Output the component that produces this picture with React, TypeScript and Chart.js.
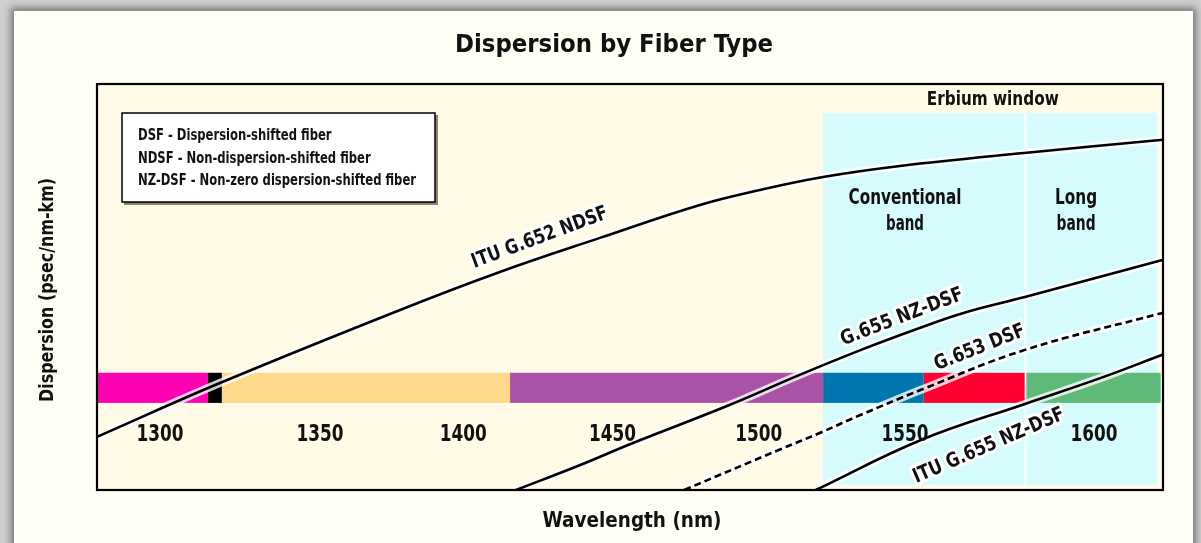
import React, { useEffect, useRef } from 'react';
import { Chart, registerables } from 'chart.js';

Chart.register(...registerables);

const FONT = '"DejaVu Sans Condensed", "Liberation Sans Narrow", "Roboto Condensed", "DejaVu Sans", sans-serif';

// Axis ranges (wavelength nm, dispersion psec/nm-km)
const X_MIN = 1273.8;
const X_MAX = 1638.2;
const Y_MIN = -7.8;
const Y_MAX = 23.2;

// ITU G.652 NDSF
const ndsfX = [1273.8, 1315.8, 1377.4, 1411.5, 1445.7, 1479.9, 1500.4, 1522, 1548.3, 1590.7, 1638.2];
const ndsfY = [-3.74, 0.37, 5.95, 8.85, 11.45, 13.97, 15.11, 16.1, 16.94, 17.93, 18.94];

// G.655 NZ-DSF (positive)
const nzdsfX = [1417, 1439, 1457, 1490, 1514, 1535, 1555, 1570, 1591, 1638];
const nzdsfY = [-7.8, -5.89, -4.21, -1.31, 0.99, 2.9, 4.57, 5.72, 6.94, 9.76];

// G.653 DSF (dashed)
const dsfX = [1474.5, 1507, 1521, 1535, 1555.5, 1591, 1638];
const dsfY = [-7.8, -4.73, -3.43, -2.05, -0.15, 2.9, 5.72];

// ITU G.655 NZ-DSF (negative)
const itu655X = [1519.5, 1555.5, 1591, 1617, 1638];
const itu655Y = [-7.8, -3.98, -1.23, 0.76, 2.52];

// Spectral band strip
const bandStart = [1273.8, 1311.7, 1316.5, 1415, 1522, 1556.4, 1591.5];
const bandEnd = [1311.7, 1316.5, 1415, 1522, 1556.4, 1590.9, 1637.4];
const bandColors = ['#ff00b2', '#000000', '#fed98b', '#aa52a8', '#0076ae', '#ff0030', '#5fba79'];
const BAND_LOW = -1.15;
const BAND_HIGH = 1.15;

// Erbium window
const erbiumStart = 1522;
const erbiumEnd = 1636.2;
const erbiumSplit = 1591.2;
const erbiumTop = 21.0;
const erbiumBottom = -7.4;

// Tick labels along the wavelength axis
const tickLabels = ['1300', '1350', '1400', '1450', '1500', '1550', '1600'];
const tickLabelAt = [1295.3, 1350, 1399, 1450, 1500, 1550, 1614.6];
const tickLabelLevel = -3.6;

const legendLines = [
  'DSF - Dispersion-shifted fiber',
  'NDSF - Non-dispersion-shifted fiber',
  'NZ-DSF - Non-zero dispersion-shifted fiber',
];

// Curve labels: text, anchor (nm, dispersion), angle degrees
const curveLabelText = ['ITU G.652 NDSF', 'G.655 NZ-DSF', 'G.653 DSF', 'ITU G.655 NZ-DSF'];
const curveLabelX = [1425.2, 1549.0, 1575.6, 1578.7];
const curveLabelY = [11.45, 5.39, 3.05, -4.43];
const curveLabelAngle = [-20.5, -21, -21.5, -23.4];
const curveLabelWidth = [144, 130, 96, 163];

const pts = (xs: number[], ys: number[]) => xs.map((x, i) => ({ x, y: ys[i] }));

type TextOpts = { angle?: number; halo?: number; align?: CanvasTextAlign; width?: number; sx?: number };

export default function App() {
  const ref = useRef<HTMLCanvasElement>(null);

  useEffect(() => {
    const canvas = ref.current!;
    const series = [
      { name: 'ITU G.652 NDSF', data: pts(ndsfX, ndsfY), dash: [] as number[] },
      { name: 'G.655 NZ-DSF', data: pts(nzdsfX, nzdsfY), dash: [] as number[] },
      { name: 'G.653 DSF', data: pts(dsfX, dsfY), dash: [7, 4] },
      { name: 'ITU G.655 NZ-DSF', data: pts(itu655X, itu655Y), dash: [] as number[] },
    ];
    const datasets: any[] = [];
    series.forEach((s) => {
      datasets.push({
        label: s.name + ' halo',
        data: s.data,
        borderColor: 'rgba(255,255,255,0.8)',
        borderWidth: 8,
        pointRadius: 0,
        tension: 0.4,
        order: 1,
      });
      datasets.push({
        label: s.name,
        data: s.data,
        borderColor: '#000000',
        borderWidth: 2.6,
        borderDash: s.dash,
        pointRadius: 0,
        tension: 0.4,
        order: 0,
      });
    });

    const text = (ctx: CanvasRenderingContext2D, s: string, x: number, y: number, font: string, o: TextOpts = {}) => {
      ctx.save();
      ctx.font = font;
      let sx = o.sx ?? 1;
      if (o.width) sx = o.width / ctx.measureText(s).width;
      ctx.translate(x, y);
      ctx.rotate(((o.angle ?? 0) * Math.PI) / 180);
      ctx.scale(sx, 1);
      ctx.textAlign = o.align ?? 'center';
      ctx.textBaseline = 'middle';
      if (o.halo) {
        ctx.lineJoin = 'round';
        ctx.strokeStyle = '#ffffff';
        ctx.lineWidth = o.halo;
        ctx.strokeText(s, 0, 0);
      }
      ctx.fillStyle = '#111111';
      ctx.fillText(s, 0, 0);
      ctx.restore();
    };

    const deco = {
      id: 'deco',
      beforeDatasetsDraw(chart: any) {
        const { ctx, chartArea: a, scales } = chart;
        const xs = scales.x;
        const ys = scales.y;
        ctx.save();
        ctx.fillStyle = '#fffbe7';
        ctx.fillRect(a.left, a.top, a.right - a.left, a.bottom - a.top);
        // erbium window
        const ex0 = xs.getPixelForValue(erbiumStart);
        const ex1 = xs.getPixelForValue(erbiumEnd);
        const ey0 = ys.getPixelForValue(erbiumTop);
        const ey1 = ys.getPixelForValue(erbiumBottom);
        ctx.fillStyle = '#d5fbfd';
        ctx.fillRect(ex0, ey0, ex1 - ex0, ey1 - ey0);
        const sxp = xs.getPixelForValue(erbiumSplit);
        ctx.fillStyle = '#f2ffff';
        ctx.fillRect(sxp - 1.5, ey0, 3, ey1 - ey0);
        // band strip
        const by0 = ys.getPixelForValue(BAND_HIGH);
        const by1 = ys.getPixelForValue(BAND_LOW);
        bandStart.forEach((b, i) => {
          const x0 = xs.getPixelForValue(b);
          const x1 = xs.getPixelForValue(bandEnd[i]);
          ctx.fillStyle = bandColors[i];
          ctx.fillRect(x0, by0, x1 - x0, by1 - by0);
        });
        ctx.restore();
      },
      afterDatasetsDraw(chart: any) {
        const { ctx, chartArea: a, scales } = chart;
        const xs = scales.x;
        const ys = scales.y;
        ctx.save();
        ctx.strokeStyle = '#000000';
        ctx.lineWidth = 2.2;
        ctx.strokeRect(a.left, a.top, a.right - a.left, a.bottom - a.top);
        ctx.restore();

        // tick labels
        const ty = ys.getPixelForValue(tickLabelLevel);
        tickLabels.forEach((t, i) => {
          text(ctx, t, xs.getPixelForValue(tickLabelAt[i]), ty, `bold 23px ${FONT}`, { width: 47 });
        });

        // curve labels
        curveLabelText.forEach((t, i) => {
          text(ctx, t, xs.getPixelForValue(curveLabelX[i]), ys.getPixelForValue(curveLabelY[i]), `bold 20px ${FONT}`, {
            angle: curveLabelAngle[i],
            halo: 6,
            width: curveLabelWidth[i],
          });
        });

        // erbium annotations
        text(ctx, 'Erbium window', xs.getPixelForValue(1580), ys.getPixelForValue(21.98), `bold 20px ${FONT}`, { width: 132 });
        text(ctx, 'Conventional', xs.getPixelForValue(1550), ys.getPixelForValue(14.5), `bold 22px ${FONT}`, { width: 113 });
        text(ctx, 'band', xs.getPixelForValue(1550), ys.getPixelForValue(12.5), `bold 22px ${FONT}`, { width: 38 });
        text(ctx, 'Long', xs.getPixelForValue(1608.5), ys.getPixelForValue(14.5), `bold 22px ${FONT}`, { width: 42 });
        text(ctx, 'band', xs.getPixelForValue(1608.5), ys.getPixelForValue(12.5), `bold 22px ${FONT}`, { width: 39 });

        // legend box
        ctx.save();
        ctx.fillStyle = 'rgba(90,80,70,0.7)';
        ctx.fillRect(124, 115, 314, 90);
        ctx.fillStyle = '#ffffff';
        ctx.fillRect(122, 113, 313, 89);
        ctx.strokeStyle = '#000000';
        ctx.lineWidth = 1.5;
        ctx.strokeRect(122, 113, 313, 89);
        ctx.restore();
        ctx.save();
        ctx.font = `bold 16px ${FONT}`;
        const legendScale = 278 / ctx.measureText(legendLines[2]).width;
        ctx.restore();
        legendLines.forEach((l, i) => {
          text(ctx, l, 138, 136 + i * 22.5, `bold 16px ${FONT}`, { align: 'left', sx: legendScale });
        });

        // titles
        text(ctx, 'Dispersion by Fiber Type', 614, 45, `bold 25px ${FONT}`, { width: 318 });
        text(ctx, 'Wavelength (nm)', 632, 521, `bold 22px ${FONT}`, { width: 179 });
        text(ctx, 'Dispersion (psec/nm-km)', 48, 290, `bold 20px ${FONT}`, { angle: -90, width: 224 });
      },
    };

    const chart = new Chart(canvas, {
      type: 'line',
      data: { datasets },
      options: {
        animation: false,
        responsive: false,
        devicePixelRatio: 1,
        layout: { padding: { left: 97, top: 84, right: 38, bottom: 53 } },
        scales: {
          x: { type: 'linear', min: X_MIN, max: X_MAX, display: false },
          y: { type: 'linear', min: Y_MIN, max: Y_MAX, display: false },
        },
        plugins: { legend: { display: false }, tooltip: { enabled: false }, title: { display: false } },
      },
      plugins: [deco],
    } as any);
    return () => chart.destroy();
  }, []);

  return (
    <div style={{ position: 'fixed', left: 0, top: 0, width: 1201, height: 543, overflow: 'hidden', background: '#cfcfcf' }}>
      <div
        style={{
          position: 'absolute',
          left: 14,
          top: 11,
          width: 1179,
          height: 600,
          background: '#fffef4',
          boxShadow: '0 0 7px 3px rgba(0,0,0,0.45)',
        }}
      />
      <canvas ref={ref} width={1201} height={543} style={{ position: 'absolute', left: 0, top: 0, width: 1201, height: 543 }} />
    </div>
  );
}
